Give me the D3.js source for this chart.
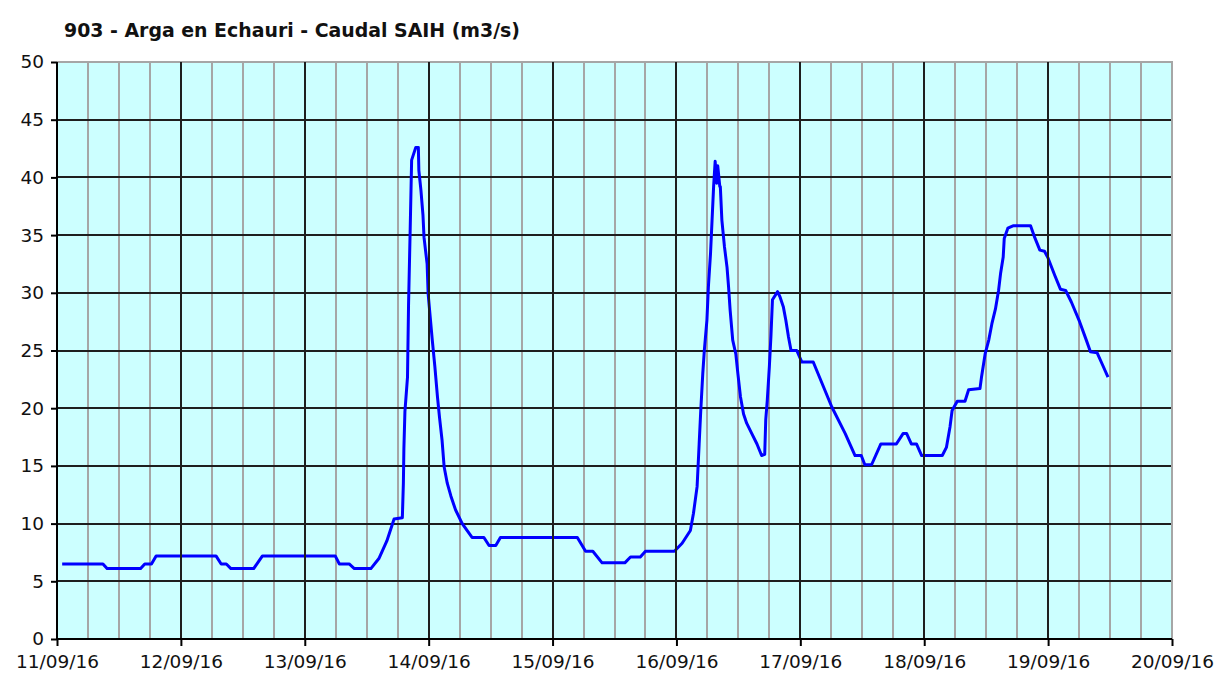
<!DOCTYPE html>
<html>
<head>
<meta charset="utf-8">
<script src="https://cdn.jsdelivr.net/npm/d3@7"></script>
<style>
  html, body { margin: 0; padding: 0; background: #ffffff; }
  svg { display: block; }
</style>
</head>
<body>
<svg id="chart" width="1219" height="675"></svg>
<script>
// Station 903 - Arga at Echauri: SAIH flow readings (m3/s).
// Time is given in hours counted from 11/09/2016 00:00.
const hours = [
  1, 8.9, 9.7, 16.2, 17, 18.3, 19.2, 30.8, 31.8, 32.8, 33.7, 38.1, 39.8,
  53.9, 54.7, 56.6, 57.6, 60.8, 62.4, 63.9, 65.3, 66.9,
  67.1, 67.2, 67.4, 67.9, 68.1, 68.4, 68.7, 69.5, 70.0, 70.1, 70.5, 70.9,
  71.1, 71.7, 71.9, 72.3, 72.7, 73.2, 73.7, 74.1, 74.6, 75.0, 75.6, 76.3,
  77.2, 78.5, 80.4, 82.7, 83.7, 85.0, 85.9, 100.8, 102.4, 103.8, 105.6,
  110.0, 111.1, 113.0, 114.0, 119.6, 121.1, 122.7, 123.3, 124.0, 124.4,
  124.7, 125.1, 125.4, 125.9, 126.2, 126.6, 126.9, 127.2, 127.5, 127.8,
  128.0, 128.4, 128.5, 128.8, 129.3, 129.8, 130.1, 130.4, 130.9, 131.5,
  131.9, 132.4, 133.0, 133.6, 134.6, 135.6, 136.5, 137.1, 137.3, 137.6,
  138.0, 138.3, 138.6, 139.6, 140.1, 140.7, 141.2, 141.7, 142.2, 143.3,
  144.3, 146.5, 150.1, 152.7, 154.6, 155.8, 156.5, 157.8, 159.6, 162.6,
  163.9, 164.6, 165.5, 166.5, 167.5, 171.5, 172.3, 173.0, 173.4, 174.4,
  175.9, 176.6, 178.8, 179.1, 179.8, 180.5, 181.1, 181.8, 182.4, 182.8,
  183.3, 183.5, 184.2, 185.2, 188.6, 189.4, 190.4, 191.3, 192.0, 193.3,
  194.4, 195.4, 196.5, 198.1, 199.4, 200.2, 201.5, 202.6, 203.6
];
const flow = [
  6.5, 6.5, 6.1, 6.1, 6.5, 6.5, 7.2, 7.2, 6.5, 6.5, 6.1, 6.1, 7.2,
  7.2, 6.5, 6.5, 6.1, 6.1, 7.0, 8.5, 10.4, 10.5,
  13.5, 16.5, 19.7, 22.7, 28.9, 35.1, 41.5, 42.6, 42.6, 40.6, 38.9, 36.7,
  34.8, 32.5, 29.9, 27.9, 25.9, 23.6, 21.0, 19.2, 17.2, 14.9, 13.5, 12.4,
  11.2, 10.0, 8.8, 8.8, 8.1, 8.1, 8.8, 8.8, 7.6, 7.6, 6.6,
  6.6, 7.1, 7.1, 7.6, 7.6, 8.3, 9.4, 10.9, 13.2, 16.9,
  19.7, 23.0, 25.0, 27.6, 30.6, 33.4, 36.3, 39.2, 41.4, 39.5,
  41.0, 39.2, 39.2, 36.3, 34.0, 32.2, 30.5, 28.5, 25.9, 24.7,
  23.0, 21.0, 19.5, 18.7, 17.8, 16.9, 15.9, 16.0, 19.0, 20.7,
  23.6, 26.2, 29.4, 30.1, 29.6, 28.8, 27.6, 26.2, 25.0, 25.0,
  24.0, 24.0, 20.1, 17.8, 15.9, 15.9, 15.1, 15.1, 16.9, 16.9,
  17.8, 17.8, 16.9, 16.9, 15.9, 15.9, 16.6, 18.4, 19.8, 20.6,
  20.6, 21.6, 21.7, 22.7, 24.7, 25.9, 27.3, 28.6, 30.2, 31.7,
  33.1, 34.7, 35.6, 35.8, 35.8, 34.8, 33.7, 33.6, 33.0, 31.5,
  30.3, 30.2, 29.2, 27.5, 25.9, 24.9, 24.8, 23.7, 22.7
];
const dayLabels = [
  "11/09/16", "12/09/16", "13/09/16", "14/09/16", "15/09/16",
  "16/09/16", "17/09/16", "18/09/16", "19/09/16", "20/09/16"
];
const yTicks = [0, 5, 10, 15, 20, 25, 30, 35, 40, 45, 50];
const title = "903 - Arga en Echauri - Caudal SAIH (m3/s)";

const start = Date.UTC(2016, 8, 11);
const hourMs = 3600 * 1000;
const data = hours.map((h, i) => ({ date: new Date(start + h * hourMs), value: flow[i] }));
const dayDates = dayLabels.map((_, i) => new Date(start + i * 24 * hourMs));

const svg = d3.select("#chart");
const plotLeft = 57, plotRight = 1172, plotTop = 62, plotBottom = 639;

const x = d3.scaleUtc()
  .domain([dayDates[0], dayDates[dayDates.length - 1]])
  .range([plotLeft, plotRight]);
const y = d3.scaleLinear().domain([0, 50]).range([plotBottom, plotTop]);

// plot background
svg.append("rect")
  .attr("x", plotLeft).attr("y", plotTop)
  .attr("width", plotRight - plotLeft).attr("height", plotBottom - plotTop)
  .attr("fill", "#ccffff");

// six-hour grid (grey)
const sixHours = d3.utcHour.every(6).range(dayDates[0], dayDates[dayDates.length - 1]);
svg.append("g")
  .selectAll("line")
  .data(sixHours.filter(d => d.getUTCHours() !== 0))
  .join("line")
  .attr("x1", d => Math.round(x(d))).attr("x2", d => Math.round(x(d)))
  .attr("y1", plotTop).attr("y2", plotBottom)
  .attr("stroke", "#a6a6a6").attr("stroke-width", 2);

// horizontal grid every 5 m3/s
svg.append("g")
  .selectAll("line")
  .data(yTicks.filter(v => v > 0 && v < 50))
  .join("line")
  .attr("x1", plotLeft).attr("x2", plotRight)
  .attr("y1", d => Math.round(y(d))).attr("y2", d => Math.round(y(d)))
  .attr("stroke", "#1e1e1e").attr("stroke-width", 2);

// top and right frame
svg.append("path")
  .attr("d", `M${plotLeft},${plotTop}H${plotRight}V${plotBottom}`)
  .attr("fill", "none").attr("stroke", "#a6a6a6").attr("stroke-width", 2);

// flow series
const line = d3.line().x(d => x(d.date)).y(d => y(d.value));
svg.append("path")
  .datum(data)
  .attr("d", line)
  .attr("fill", "none")
  .attr("stroke", "#0000ff")
  .attr("stroke-width", 3)
  .attr("stroke-linejoin", "round");

// day separators (black)
svg.append("g")
  .selectAll("line")
  .data(dayDates.slice(1, -1))
  .join("line")
  .attr("x1", d => Math.round(x(d))).attr("x2", d => Math.round(x(d)))
  .attr("y1", plotTop).attr("y2", plotBottom)
  .attr("stroke", "#1e1e1e").attr("stroke-width", 2);

// axes
const yAxis = d3.axisLeft(y).tickValues(yTicks).tickSize(6).tickPadding(7);
const gy = svg.append("g").attr("transform", `translate(${plotLeft},0)`).call(yAxis);
const xAxis = d3.axisBottom(x).tickValues(dayDates).tickSize(7).tickPadding(9)
  .tickFormat((d, i) => dayLabels[i]);
const gx = svg.append("g").attr("transform", `translate(0,${plotBottom})`).call(xAxis);

[gx, gy].forEach(g => {
  g.select(".domain").attr("stroke", "#000").attr("stroke-width", 2);
  g.selectAll(".tick line").attr("stroke", "#000").attr("stroke-width", 2);
  g.selectAll(".tick text")
    .attr("fill", "#111")
    .style("font-family", "'DejaVu Sans', Verdana, sans-serif")
    .style("font-size", "18.5px");
});
gy.select(".domain").attr("d", `M0,${plotBottom}V${plotTop}`);
gx.select(".domain").attr("d", `M${plotLeft},0H${plotRight}`);

// title
svg.append("text")
  .attr("x", 64).attr("y", 37)
  .attr("textLength", 456)
  .attr("lengthAdjust", "spacingAndGlyphs")
  .style("font-family", "'DejaVu Sans Condensed', 'DejaVu Sans', sans-serif")
  .style("font-weight", "bold")
  .style("font-size", "20px")
  .attr("fill", "#111")
  .text(title);
</script>
</body>
</html>
